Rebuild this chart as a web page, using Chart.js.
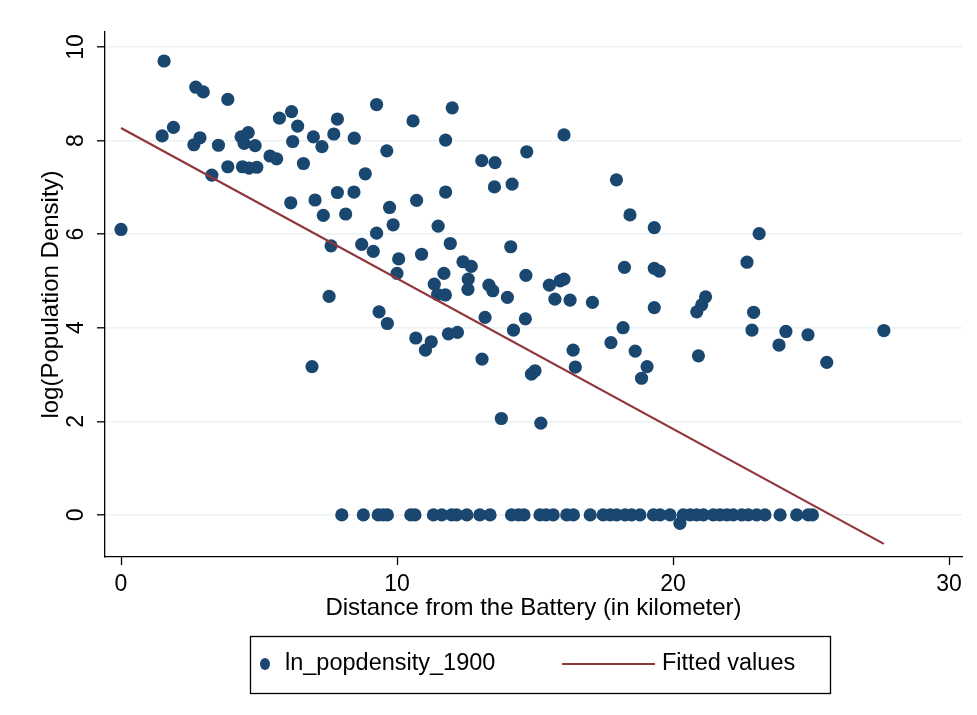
<!DOCTYPE html>
<html>
<head>
<meta charset="utf-8">
<script src="https://cdn.jsdelivr.net/npm/chart.js@4"></script>
<style>
  body { margin: 0; background: #fff; }
  canvas { display: block; }
</style>
</head>
<body>
<canvas id="myChart" width="977" height="715"></canvas>
<script>
// distance from the Battery (km) and log population density
const distance = [
    0.00, 1.56, 1.49, 1.90, 2.71, 2.98, 2.64, 2.86, 3.29, 3.53,
    3.87, 3.87, 4.35, 4.61, 4.46, 4.86, 4.40, 4.64, 4.92, 5.40,
    5.64, 5.74, 6.18, 6.40, 6.22, 6.61, 6.15, 6.92, 6.97, 7.03,
    7.28, 7.33, 7.54, 7.61, 7.71, 7.84, 7.84, 8.14, 8.44, 8.45,
    8.72, 8.85, 9.14, 9.26, 9.26, 9.35, 9.63, 9.65, 9.73, 9.86,
    10.00, 10.06, 10.58, 10.68, 10.71, 10.89, 11.03, 11.24, 11.35, 11.47,
    11.49, 11.70, 11.75, 11.76, 11.76, 11.86, 11.93, 12.00, 12.19, 12.39,
    12.57, 12.58, 12.69, 13.07, 13.08, 13.19, 13.33, 13.47, 13.53, 13.55,
    13.78, 14.00, 14.12, 14.17, 14.22, 14.65, 14.67, 14.70, 14.87, 15.00,
    15.21, 15.52, 15.72, 15.91, 16.05, 16.05, 16.27, 16.38, 16.46, 17.08,
    17.75, 17.95, 18.19, 18.24, 18.44, 18.63, 18.86, 19.06, 19.32, 19.32,
    19.32, 19.50, 20.86, 20.92, 21.04, 21.18, 22.68, 22.86, 22.92, 23.12,
    23.84, 24.09, 24.89, 25.57, 27.64,
    // tracts at zero
    8.00, 8.78, 9.32, 9.50, 9.65, 10.50, 10.65, 11.32, 11.62, 11.98,
    12.16, 12.53, 13.00, 13.37, 14.15, 14.40, 14.60, 15.18, 15.40, 15.66,
    16.15, 16.39, 17.00, 17.47, 17.72, 17.96, 18.26, 18.50, 18.80, 19.29,
    19.53, 19.89, 20.25, 20.37, 20.62, 20.86, 21.10, 21.46, 21.70, 21.95,
    22.18, 22.49, 22.73, 23.03, 23.33, 23.88, 24.48, 24.90, 25.05
];
const lnDensity = [
    6.10, 9.70, 8.10, 8.28, 9.14, 9.04, 7.91, 8.06, 7.26, 7.90,
    8.88, 7.44, 8.08, 8.17, 7.94, 7.89, 7.44, 7.41, 7.43, 7.67,
    7.61, 8.48, 8.62, 8.31, 7.98, 7.51, 6.67, 3.17, 8.08, 6.73,
    7.87, 6.40, 4.67, 5.75, 8.14, 8.46, 6.89, 6.43, 6.90, 8.05,
    5.78, 7.29, 5.63, 8.77, 6.02, 4.34, 7.78, 4.09, 6.57, 6.20,
    5.16, 5.47, 8.42, 3.78, 6.72, 5.57, 3.52, 3.70, 4.93, 4.71,
    6.17, 5.16, 4.70, 8.01, 6.90, 3.87, 5.80, 8.70, 3.90, 5.41,
    4.82, 5.04, 5.31, 7.57, 3.33, 4.22, 4.91, 4.79, 7.01, 7.53,
    2.06, 4.65, 5.73, 7.07, 3.95, 4.19, 5.12, 7.76, 3.01, 3.08,
    1.96, 4.91, 4.61, 5.00, 5.04, 8.12, 4.59, 3.52, 3.16, 4.54,
    3.68, 7.16, 4.00, 5.29, 6.41, 3.50, 2.92, 3.17, 6.14, 5.27,
    4.43, 5.21, 4.34, 3.40, 4.49, 4.66, 5.40, 3.95, 4.33, 6.01,
    3.63, 3.92, 3.85, 3.26, 3.94,
    0, 0, 0, 0, 0, 0, 0, 0, 0, 0,
    0, 0, 0, 0, 0, 0, 0, 0, 0, 0,
    0, 0, 0, 0, 0, 0, 0, 0, 0, 0,
    0, 0, -0.18, 0, 0, 0, 0, 0, 0, 0,
    0, 0, 0, 0, 0, 0, 0, 0, 0
];

// fitted values (end points of the linear fit)
const fitX = [0, 27.64];
const fitY = [8.27, -0.62];

const xTicks = [0, 10, 20, 30];
const yTicks = [0, 2, 4, 6, 8, 10];

const navy = '#1a476f';
const maroon = '#90353b';
const fontFamily = '"Liberation Sans", Arial, Helvetica, sans-serif';

const scatterData = distance.map((d, i) => ({ x: d, y: lnDensity[i] }));
const fitData = fitX.map((d, i) => ({ x: d, y: fitY[i] }));

// Stata-like legend box underneath the axis title
const legendBox = {
    id: 'legendBox',
    afterDraw(chart) {
        const c = chart.ctx;
        const ds = chart.data.datasets;
        const cy = 664;
        c.save();
        c.strokeStyle = '#000';
        c.lineWidth = 1.3;
        c.strokeRect(250.5, 636.5, 580, 57);

        c.fillStyle = ds[1].backgroundColor;
        c.beginPath();
        c.ellipse(265, cy, 5, 6, 0, 0, Math.PI * 2);
        c.fill();

        c.font = '23.5px ' + fontFamily;
        c.fillStyle = '#000';
        c.textBaseline = 'middle';
        c.fillText(ds[1].label, 285, cy);

        c.strokeStyle = ds[0].borderColor;
        c.lineWidth = 2;
        c.beginPath();
        c.moveTo(562, cy);
        c.lineTo(655, cy);
        c.stroke();

        c.fillText(ds[0].label, 662, cy);
        c.restore();
    }
};

function renderChart() {
    const ctx = document.getElementById('myChart').getContext('2d');
    new Chart(ctx, {
        type: 'scatter',
        data: {
            datasets: [{
                type: 'line',
                label: 'Fitted values',
                data: fitData,
                borderColor: maroon,
                borderWidth: 2.2,
                pointRadius: 0,
                fill: false,
                order: 0
            }, {
                label: 'ln_popdensity_1900',
                data: scatterData,
                backgroundColor: navy,
                borderWidth: 0,
                pointRadius: 6.6,
                pointHoverRadius: 6.6,
                order: 1
            }]
        },
        options: {
            responsive: false,
            animation: false,
            devicePixelRatio: 1,
            layout: {
                padding: { top: 32, right: 15, left: 0, bottom: 90 }
            },
            plugins: {
                legend: { display: false },
                tooltip: { enabled: false }
            },
            scales: {
                x: {
                    type: 'linear',
                    min: -0.58,
                    max: 30.47,
                    afterBuildTicks: s => { s.ticks = xTicks.map(v => ({ value: v })); },
                    afterFit: s => { s.height = 68; },
                    border: { color: '#000', width: 1.3 },
                    grid: { drawOnChartArea: false, tickColor: '#000', tickLength: 8, tickWidth: 1.3 },
                    ticks: { color: '#000', font: { size: 23, family: fontFamily }, padding: 6, maxRotation: 0 },
                    title: {
                        display: true,
                        text: 'Distance from the Battery (in kilometer)',
                        color: '#000',
                        font: { size: 24, family: fontFamily },
                        padding: { top: 0, bottom: 2 }
                    }
                },
                y: {
                    type: 'linear',
                    min: -0.9,
                    max: 10.32,
                    afterBuildTicks: s => { s.ticks = yTicks.map(v => ({ value: v })); },
                    afterFit: s => { s.width = 105; },
                    border: { color: '#000', width: 1.3 },
                    grid: { color: '#eaf2f3', lineWidth: 1.6, tickColor: '#000', tickLength: 8, tickWidth: 1.3 },
                    ticks: {
                        color: '#000',
                        font: { size: 23, family: fontFamily },
                        padding: 8,
                        minRotation: 90,
                        maxRotation: 90,
                        crossAlign: 'center'
                    },
                    title: {
                        display: true,
                        text: 'log(Population Density)',
                        color: '#000',
                        font: { size: 24, family: fontFamily },
                        padding: { top: 37, bottom: 0 }
                    }
                }
            }
        },
        plugins: [legendBox]
    });
}

renderChart();
</script>
</body>
</html>
